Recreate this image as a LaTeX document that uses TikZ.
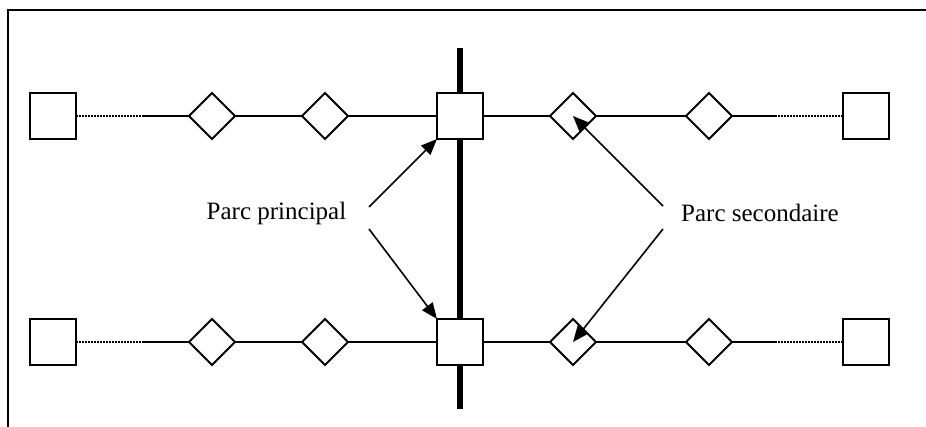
\documentclass[tikz,border=0pt]{standalone}
\usepackage{fontspec}
\setmainfont{Liberation Serif}
\usetikzlibrary{shapes.geometric,arrows.meta}
\begin{document}
\begin{tikzpicture}[x=0.5pt,y=-0.5pt,
  box/.style={draw,line width=1pt,fill=white,minimum size=23pt,inner sep=0pt,outer sep=0pt},
  rhomb/.style={draw,diamond,line width=0.9pt,fill=white,minimum width=23pt,minimum height=23pt,inner sep=0pt,outer sep=0pt},
  link/.style={line width=0.8pt},
  dotlink/.style={line width=0.8pt,dash pattern=on 0.8pt off 0.7pt},
  pointer/.style={line width=0.8pt,-{Triangle[length=8pt,width=6.5pt]}},
  label/.style={font=\fontsize{12.5}{15}\selectfont,inner sep=0pt}]
\useasboundingbox (0,0) rectangle (926,427);
% frame
\draw[line width=1pt] (8,427) -- (8,10) -- (926,10);
% main vertical bus
\draw[line width=2.8pt] (460,48) -- (460,409);
% two rows
\foreach \r/\y in {t/116,b/342}{
  \coordinate (\r dl) at (143,\y);
  \coordinate (\r dr) at (775,\y);
  \node[box]   (\r s1) at (53,\y)  {};
  \node[rhomb] (\r d1) at (212,\y) {};
  \node[rhomb] (\r d2) at (325,\y) {};
  \node[box]   (\r c)  at (460,\y) {};
  \node[rhomb] (\r d3) at (573,\y) {};
  \node[rhomb] (\r d4) at (709,\y) {};
  \node[box]   (\r s2) at (866,\y) {};
  \draw[dotlink] (\r s1.east) -- (\r dl);
  \draw[link] (\r dl) -- (\r d1.west);
  \draw[link] (\r d1.east) -- (\r d2.west);
  \draw[link] (\r d2.east) -- (\r c.west);
  \draw[link] (\r c.east) -- (\r d3.west);
  \draw[link] (\r d3.east) -- (\r d4.west);
  \draw[link] (\r d4.east) -- (\r dr);
  \draw[dotlink] (\r dr) -- (\r s2.west);
}
% labels
\node[label] (pp) at (276.5,213) {Parc principal};
\node[label] (ps) at (760,213) {Parc secondaire};
\coordinate (pp1) at (369,207);
\coordinate (pp2) at (369,229);
\coordinate (ps1) at (663,206);
\coordinate (ps2) at (663,229);
\draw[pointer] (pp1) -- (tc.south west);
\draw[pointer] (pp2) -- (bc.north west);
\draw[pointer] (ps1) -- (td3.center);
\draw[pointer] (ps2) -- (bd3.center);
\end{tikzpicture}
\end{document}
